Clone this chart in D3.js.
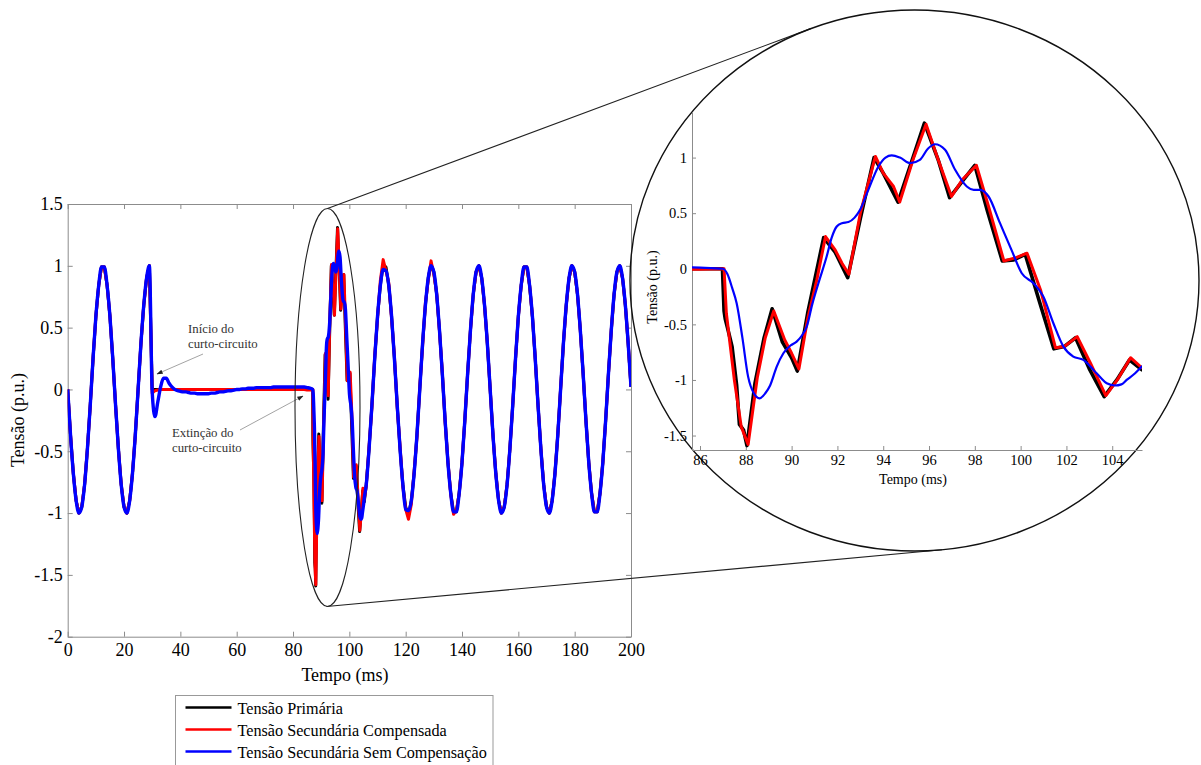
<!DOCTYPE html>
<html>
<head>
<meta charset="utf-8">
<script src="https://cdn.jsdelivr.net/npm/d3@7"></script>
<style>
  body { margin: 0; background: #fff; }
  svg { display: block; font-family: "Liberation Serif", "Times New Roman", serif; }
</style>
</head>
<body>
<div id="chart"></div>
<script>
// ---- data (tensão em p.u., tempo em ms) ----
// antes da falta: as três tensões coincidem
const timePre = d3.range(0, 30);
const preFault = [0, -0.37, -0.68, -0.90, -1.00, -0.95, -0.77, -0.48, -0.13, 0.25,
  0.59, 0.84, 0.99, 0.99, 0.84, 0.59, 0.25, -0.13, -0.48, -0.77,
  -0.95, -1.00, -0.90, -0.68, -0.37, 0.00, 0.37, 0.68, 0.90, 1.00];

// durante o curto-circuito (30..85 ms)
const timeFault = d3.range(30, 86);
const faultPrimary = [0, 0, 0, 0, 0, 0, 0, 0, 0, 0, 0, 0, 0, 0, 0, 0, 0, 0, 0, 0,
  0, 0, 0, 0, 0, 0, 0, 0, 0, 0, 0, 0, 0, 0, 0, 0, 0, 0, 0, 0,
  0, 0, 0, 0, 0, 0, 0, 0, 0, 0, 0, 0, 0, 0, 0, 0];
const faultCompensated = [-0.03, -0.01, -0.005, 0, 0, 0, 0, 0, 0, 0, 0, 0, 0, 0, 0, 0, 0, 0, 0, 0,
  0, 0, 0, 0, 0, 0, 0, 0, 0, 0, 0, 0, 0, 0, 0, 0, 0, 0, 0, 0,
  0, 0, 0, 0, 0, 0, 0, 0, 0, 0, 0, 0, 0, 0, 0, -0.005];
const faultUncompensated = [-0.02, -0.22, -0.10, 0.02, 0.09, 0.09, 0.05, 0.02, 0.00, -0.01,
  -0.015, -0.02, -0.02, -0.025, -0.03, -0.03, -0.035, -0.035, -0.035, -0.035,
  -0.035, -0.03, -0.03, -0.025, -0.02, -0.02, -0.015, -0.01, -0.01, -0.005,
  0.00, 0.00, 0.005, 0.005, 0.01, 0.01, 0.01, 0.015, 0.015, 0.015,
  0.015, 0.015, 0.015, 0.02, 0.02, 0.02, 0.02, 0.02, 0.02, 0.02,
  0.02, 0.02, 0.02, 0.02, 0.02, 0.015];

const recoveryTimePrimary = [86.0, 86.98, 87.05, 87.1, 87.2, 87.4, 87.6, 87.72, 87.9, 88.05,
  88.4, 88.8, 89.15, 89.6, 90.0, 90.25, 90.7, 91.4, 91.9, 92.45,
  93.0, 93.6, 94.0, 94.65, 95.3, 95.8, 96.4, 96.9, 97.5, 98.0,
  98.55, 99.2, 99.7, 100.2, 100.8, 101.45, 101.9, 102.4, 103.0, 103.65,
  104.2, 104.75, 105.3];
const recoveryPrimary = [0, 0, -0.38, -0.45, -0.53, -0.70, -1.05, -1.40, -1.45, -1.59,
  -1.03, -0.62, -0.36, -0.66, -0.80, -0.92, -0.40, 0.28, 0.15, -0.08,
  0.45, 1.00, 0.86, 0.60, 1.00, 1.31, 0.98, 0.64, 0.80, 0.93,
  0.52, 0.07, 0.08, 0.13, -0.28, -0.72, -0.70, -0.62, -0.90, -1.15,
  -1.00, -0.82, -0.91];
const recoveryTimeCompensated = [86.0, 87.05, 87.15, 87.5, 87.8, 88.1, 88.5, 88.85, 89.22, 89.7,
  90.0, 90.32, 90.7, 91.1, 91.48, 91.9, 92.2, 92.5, 93.0, 93.66,
  94.0, 94.45, 94.72, 95.3, 95.87, 96.35, 96.98, 97.45, 98.07, 98.6,
  99.27, 99.8, 100.28, 100.87, 101.52, 101.9, 102.47, 103.05, 103.72, 104.22,
  104.8, 105.29];
const recoveryCompensated = [-0.005, 0, -0.40, -1.00, -1.42, -1.58, -0.98, -0.62, -0.38, -0.64,
  -0.76, -0.90, -0.45, -0.10, 0.29, 0.17, 0.05, -0.05, 0.50, 1.01,
  0.86, 0.74, 0.60, 0.98, 1.30, 1.01, 0.65, 0.80, 0.93, 0.56,
  0.07, 0.10, 0.14, -0.19, -0.71, -0.70, -0.61, -0.85, -1.14, -1.00,
  -0.80, -0.89];
const recoveryTimeUncompensated = [86.0, 87.0, 87.2, 87.4, 87.6, 87.85, 88.1, 88.35, 88.6, 88.85,
  89.06, 89.35, 89.64, 89.95, 90.22, 90.45, 90.66, 90.9, 91.17, 91.53,
  91.75, 91.97, 92.2, 92.48, 92.75, 92.99, 93.35, 93.79, 94.1, 94.37,
  94.73, 95.17, 95.6, 95.95, 96.26, 96.7, 97.14, 97.65, 97.95, 98.24,
  98.6, 99.1, 99.6, 100.05, 100.56, 100.99, 101.43, 101.87, 102.3, 102.74,
  103.18, 103.5, 103.76, 104.12, 104.4, 104.63, 105.0, 105.29];
const recoveryUncompensated = [0.01, 0.0, -0.05, -0.17, -0.31, -0.62, -0.97, -1.12, -1.165, -1.12,
  -1.05, -0.88, -0.76, -0.69, -0.655, -0.60, -0.52, -0.32, -0.13, 0.11,
  0.28, 0.38, 0.41, 0.42, 0.46, 0.53, 0.71, 0.92, 1.00, 1.02,
  1.00, 0.95, 0.98, 1.08, 1.12, 1.07, 0.89, 0.74, 0.71, 0.71,
  0.65, 0.41, 0.17, -0.04, -0.13, -0.25, -0.49, -0.70, -0.79, -0.82,
  -0.91, -0.98, -1.03, -1.05, -1.04, -1.00, -0.94, -0.88];

// depois da falta (106..200 ms)
const timePost = d3.range(106, 201);
const postPrimary = [-0.77, -0.48, -0.13, 0.25, 0.59, 0.84, 1.01, 0.99, 0.84, 0.59,
  0.25, -0.13, -0.48, -0.77, -0.95, -1.02, -0.90, -0.68, -0.37, 0.00,
  0.37, 0.68, 0.90, 1.01, 0.95, 0.77, 0.48, 0.13, -0.25, -0.59,
  -0.84, -0.99, -0.99, -0.84, -0.59, -0.25, 0.13, 0.48, 0.77, 0.95,
  1.00, 0.90, 0.68, 0.37, 0.00, -0.37, -0.68, -0.90, -1.00, -0.95,
  -0.77, -0.48, -0.13, 0.25, 0.59, 0.84, 0.99, 0.99, 0.84, 0.59,
  0.25, -0.13, -0.48, -0.77, -0.95, -1.00, -0.90, -0.68, -0.37, 0.00,
  0.37, 0.68, 0.90, 1.00, 0.95, 0.77, 0.48, 0.13, -0.25, -0.59,
  -0.84, -0.99, -0.99, -0.84, -0.59, -0.25, 0.13, 0.48, 0.77, 0.95,
  1.00, 0.90, 0.68, 0.37, 0.02];
const postCompensated = [-0.78, -0.46, -0.15, 0.27, 0.57, 0.88, 1.05, 0.96, 0.86, 0.57,
  0.27, -0.15, -0.46, -0.79, -0.97, -1.05, -0.93, -0.66, -0.39, 0.02,
  0.35, 0.70, 0.88, 1.04, 0.93, 0.78, 0.47, 0.14, -0.26, -0.58,
  -0.85, -1.01, -0.98, -0.84, -0.59, -0.25, 0.13, 0.48, 0.77, 0.95,
  1.00, 0.90, 0.68, 0.37, 0.00, -0.37, -0.68, -0.90, -1.00, -0.95,
  -0.77, -0.48, -0.13, 0.25, 0.59, 0.84, 0.99, 0.99, 0.84, 0.59,
  0.25, -0.13, -0.48, -0.77, -0.95, -1.00, -0.90, -0.68, -0.37, 0.00,
  0.37, 0.68, 0.90, 1.00, 0.95, 0.77, 0.48, 0.13, -0.25, -0.59,
  -0.84, -0.99, -0.99, -0.84, -0.59, -0.25, 0.13, 0.48, 0.77, 0.95,
  1.00, 0.90, 0.68, 0.37, 0.02];
const postUncompensated = [-0.77, -0.48, -0.13, 0.25, 0.59, 0.84, 0.97, 0.96, 0.84, 0.59,
  0.25, -0.13, -0.48, -0.77, -0.97, -0.98, -0.90, -0.68, -0.37, 0.00,
  0.37, 0.68, 0.90, 1.00, 0.95, 0.77, 0.48, 0.13, -0.25, -0.59,
  -0.84, -0.99, -0.99, -0.84, -0.59, -0.25, 0.13, 0.48, 0.77, 0.95,
  1.00, 0.90, 0.68, 0.37, 0.00, -0.37, -0.68, -0.90, -1.00, -0.95,
  -0.77, -0.48, -0.13, 0.25, 0.59, 0.84, 0.99, 0.99, 0.84, 0.59,
  0.25, -0.13, -0.48, -0.77, -0.95, -1.00, -0.90, -0.68, -0.37, 0.00,
  0.37, 0.68, 0.90, 1.00, 0.95, 0.77, 0.48, 0.13, -0.25, -0.59,
  -0.84, -0.99, -0.99, -0.84, -0.59, -0.25, 0.13, 0.48, 0.77, 0.95,
  1.00, 0.90, 0.68, 0.37, 0.02];

const seriesNames = ['Tensão Primária', 'Tensão Secundária Compensada', 'Tensão Secundária Sem Compensação'];
const seriesColors = ['#000000', '#ff0000', '#0000ff'];

const mainXTicks = [0, 20, 40, 60, 80, 100, 120, 140, 160, 180, 200];
const mainYTicks = [-2, -1.5, -1, -0.5, 0, 0.5, 1, 1.5];
const insetXTicks = [86, 88, 90, 92, 94, 96, 98, 100, 102, 104];
const insetYTicks = [-1.5, -1, -0.5, 0, 0.5, 1];

// ---- montagem ----
function join(parts) {
  const out = [];
  parts.forEach(([ts, vs]) => ts.forEach((t, i) => out.push({ t: t, v: vs[i] })));
  return out;
}
const series = [
  join([[timePre, preFault], [timeFault, faultPrimary], [recoveryTimePrimary, recoveryPrimary], [timePost, postPrimary]]),
  join([[timePre, preFault], [timeFault, faultCompensated], [recoveryTimeCompensated, recoveryCompensated], [timePost, postCompensated]]),
  join([[timePre, preFault], [timeFault, faultUncompensated], [recoveryTimeUncompensated, recoveryUncompensated], [timePost, postUncompensated]])
];

const W = 1201, H = 765;
const svg = d3.select('#chart').append('svg').attr('width', W).attr('height', H);
const defs = svg.append('defs');
const axisGray = '#8c8c8c';
const fmt = d => String(d);

// main plot
const x = d3.scaleLinear().domain([0, 200]).range([67.7, 631]);
const y = d3.scaleLinear().domain([-2, 1.5]).range([636.7, 204]);

defs.append('clipPath').attr('id', 'clipMain').append('rect')
  .attr('x', 67.7).attr('y', 204).attr('width', 631 - 67.7).attr('height', 636.7 - 204);

function styleAxis(g) {
  g.select('.domain').attr('stroke', axisGray);
  g.selectAll('.tick line').attr('stroke', axisGray);
  g.selectAll('.tick text').attr('fill', '#000');
}

svg.append('g').attr('transform', 'translate(0,636.7)')
  .call(d3.axisBottom(x).tickValues(mainXTicks).tickFormat(fmt).tickSizeInner(-5).tickSizeOuter(0).tickPadding(7))
  .attr('font-size', 18).attr('font-family', null).call(styleAxis);
svg.append('g').attr('transform', 'translate(0,204)')
  .call(d3.axisTop(x).tickValues(mainXTicks).tickFormat('').tickSizeInner(-5).tickSizeOuter(0))
  .call(styleAxis);
svg.append('g').attr('transform', 'translate(67.7,0)')
  .call(d3.axisLeft(y).tickValues(mainYTicks).tickFormat(fmt).tickSizeInner(-5).tickSizeOuter(0).tickPadding(5))
  .attr('font-size', 18).attr('font-family', null).call(styleAxis);
svg.append('g').attr('transform', 'translate(631,0)')
  .call(d3.axisRight(y).tickValues(mainYTicks).tickFormat('').tickSizeInner(-5).tickSizeOuter(0))
  .call(styleAxis);

svg.append('text').attr('x', 345).attr('y', 681).attr('text-anchor', 'middle')
  .attr('font-size', 18).text('Tempo (ms)');
svg.append('text').attr('transform', 'translate(24,420) rotate(-90)').attr('text-anchor', 'middle')
  .attr('font-size', 18).text('Tensão (p.u.)');

const lineMain = d3.line().x(d => x(d.t)).y(d => y(d.v));
const gMain = svg.append('g').attr('clip-path', 'url(#clipMain)');
series.forEach((s, i) => {
  gMain.append('path').datum(s)
    .attr('fill', 'none').attr('stroke', seriesColors[i])
    .attr('stroke-width', i === 2 ? 3.4 : 3).attr('stroke-linejoin', 'round')
    .attr('d', lineMain.curve(i === 2 ? d3.curveMonotoneX : d3.curveLinear));
});

// annotations
defs.append('marker').attr('id', 'arrow').attr('viewBox', '0 0 10 10')
  .attr('refX', 9).attr('refY', 5).attr('markerWidth', 7).attr('markerHeight', 7)
  .attr('orient', 'auto-start-reverse')
  .append('path').attr('d', 'M0,1.5 L10,5 L0,8.5 Z').attr('fill', '#222');

const notes = [
  { lines: ['Início do', 'curto-circuito'], x: 188, y: 333, from: [203, 354], to: [157, 374] },
  { lines: ['Extinção do', 'curto-circuito'], x: 172, y: 437, from: [240, 430], to: [303, 396] }
];
notes.forEach(n => {
  const t = svg.append('text').attr('x', n.x).attr('y', n.y).attr('font-size', 12.8).attr('fill', '#333');
  n.lines.forEach((l, i) => t.append('tspan').attr('x', n.x).attr('dy', i ? 15 : 0).text(l));
  svg.append('line').attr('x1', n.from[0]).attr('y1', n.from[1]).attr('x2', n.to[0]).attr('y2', n.to[1])
    .attr('stroke', '#999').attr('stroke-width', 0.9).attr('marker-end', 'url(#arrow)');
});

// zoom ellipse and big circle
const small = { cx: 327.5, cy: 407.5, rx: 32.5, ry: 199 };
const big = { cx: 914.5, cy: 280.5, rx: 284.5, ry: 270.5 };

function tangent(px, py, e, pickTop) {
  const u = (px - e.cx) / e.rx, v = (py - e.cy) / e.ry;
  const th = Math.atan2(v, u), a = Math.acos(1 / Math.hypot(u, v));
  const pts = [th + a, th - a].map(an => [e.cx + e.rx * Math.cos(an), e.cy + e.ry * Math.sin(an)]);
  pts.sort((p, q) => p[1] - q[1]);
  return pickTop ? pts[0] : pts[1];
}

svg.append('ellipse').attr('cx', small.cx).attr('cy', small.cy).attr('rx', small.rx).attr('ry', small.ry)
  .attr('fill', 'none').attr('stroke', '#222').attr('stroke-width', 1.1);
const topStart = [small.cx, small.cy - small.ry], botStart = [small.cx - 1, small.cy + small.ry];
const topEnd = tangent(topStart[0], topStart[1], big, true);
const botEnd = tangent(botStart[0], botStart[1], big, false);
[[topStart, topEnd], [botStart, botEnd]].forEach(([a, b]) => {
  svg.append('line').attr('x1', a[0]).attr('y1', a[1]).attr('x2', b[0]).attr('y2', b[1])
    .attr('stroke', '#222').attr('stroke-width', 1.1);
});
svg.append('ellipse').attr('cx', big.cx).attr('cy', big.cy).attr('rx', big.rx).attr('ry', big.ry)
  .attr('fill', 'none').attr('stroke', '#111').attr('stroke-width', 1.4);

// inset (detalhe 86..105 ms)
const xi = d3.scaleLinear().domain([85.65, 105.3]).range([692, 1142]);
const yi = d3.scaleLinear().domain([-1.63, 1.41]).range([450, 112]);

defs.append('clipPath').attr('id', 'clipInset').append('rect')
  .attr('x', 692).attr('y', 100).attr('width', 1142 - 692).attr('height', 360);

svg.append('g').attr('transform', 'translate(0,450)')
  .call(d3.axisBottom(xi).tickValues(insetXTicks).tickFormat(fmt).tickSizeInner(-4).tickSizeOuter(0).tickPadding(5))
  .attr('font-size', 14.5).attr('font-family', null).call(styleAxis);
svg.append('g').attr('transform', 'translate(692,0)')
  .call(d3.axisLeft(yi).tickValues(insetYTicks).tickFormat(fmt).tickSizeInner(-4).tickSizeOuter(0).tickPadding(5))
  .attr('font-size', 14.5).attr('font-family', null).call(styleAxis);

svg.append('text').attr('x', 913).attr('y', 484).attr('text-anchor', 'middle')
  .attr('font-size', 14).text('Tempo (ms)');
svg.append('text').attr('transform', 'translate(657,287) rotate(-90)').attr('text-anchor', 'middle')
  .attr('font-size', 14).text('Tensão (p.u.)');

const lineInset = d3.line().x(d => xi(d.t)).y(d => yi(d.v));
const gInset = svg.append('g').attr('clip-path', 'url(#clipInset)');
series.forEach((s, i) => {
  gInset.append('path').datum(s.filter(d => d.t >= 84 && d.t <= 107))
    .attr('fill', 'none').attr('stroke', seriesColors[i])
    .attr('stroke-width', i === 0 ? 3.6 : (i === 1 ? 3 : 2.2))
    .attr('stroke-linejoin', 'round').attr('stroke-linecap', 'round')
    .attr('d', lineInset.curve(i === 2 ? d3.curveMonotoneX : d3.curveLinear));
});

// legend
const lg = svg.append('g').attr('transform', 'translate(175.5,695.5)');
lg.append('rect').attr('width', 317.5).attr('height', 80).attr('fill', '#fff')
  .attr('stroke', '#999').attr('stroke-width', 1);
seriesNames.forEach((name, i) => {
  const ry = 12 + i * 22;
  lg.append('line').attr('x1', 10).attr('x2', 56).attr('y1', ry).attr('y2', ry)
    .attr('stroke', seriesColors[i]).attr('stroke-width', 2.5);
  lg.append('text').attr('x', 62).attr('y', ry + 6).attr('font-size', 16.2).text(name);
});
</script>
</body>
</html>
